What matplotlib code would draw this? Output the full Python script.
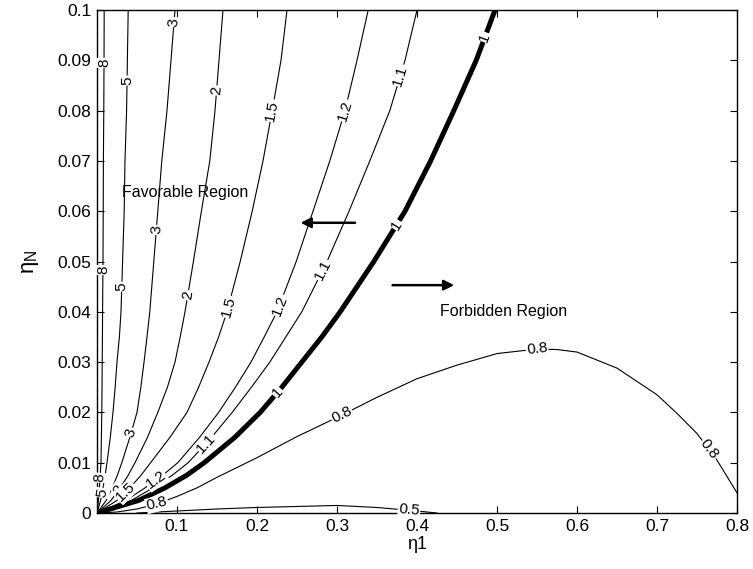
import numpy as np
import matplotlib
matplotlib.use('Agg')
import matplotlib.pyplot as plt

plt.rcParams['font.family'] = ['Liberation Sans', 'DejaVu Sans']
plt.rcParams['mathtext.fontset'] = 'custom'
plt.rcParams['mathtext.rm'] = 'Liberation Sans'

# contour levels that run up from the origin: x read at each eta_N value
Y_LEVELS = [0, 0.0025, 0.005, 0.0075, 0.01, 0.015, 0.02, 0.025, 0.03, 0.035, 0.04,
            0.05, 0.06, 0.07, 0.08, 0.09, 0.1]
X_8 = [0, 0.0018, 0.003, 0.004, 0.005, 0.0055, 0.006, 0.0063, 0.0065, 0.0068, 0.007,
       0.0075, 0.0078, 0.008, 0.0085, 0.0088, 0.009]
X_5 = [0, 0.0045, 0.0075, 0.0102, 0.0125, 0.0166, 0.02, 0.0227, 0.025, 0.028, 0.03,
       0.032, 0.034, 0.035, 0.037, 0.038, 0.039]
X_3 = [0, 0.0115, 0.019, 0.0255, 0.031, 0.041, 0.05, 0.0548, 0.0588, 0.0625, 0.066,
       0.071, 0.076, 0.081, 0.0875, 0.0925, 0.0975]
X_2 = [0, 0.0175, 0.029, 0.039, 0.0475, 0.063, 0.076, 0.088, 0.0975, 0.104, 0.11,
       0.1205, 0.1305, 0.141, 0.1475, 0.1525, 0.1575]
X_1_5 = [0, 0.025, 0.041, 0.055, 0.067, 0.091, 0.1125, 0.127, 0.14, 0.152, 0.1625,
         0.179, 0.194, 0.2075, 0.219, 0.23, 0.2375]
X_1_2 = [0, 0.036, 0.06, 0.082, 0.101, 0.128, 0.152, 0.173, 0.1925, 0.209, 0.225,
         0.249, 0.27, 0.291, 0.31, 0.325, 0.339]
X_1_1 = [0, 0.043, 0.07, 0.094, 0.114, 0.143, 0.169, 0.193, 0.216, 0.236, 0.256,
         0.2875, 0.315, 0.341, 0.366, 0.385, 0.4]
X_1 = [0, 0.052, 0.085, 0.112, 0.134, 0.172, 0.204, 0.231, 0.256, 0.281, 0.304,
       0.346, 0.385, 0.417, 0.446, 0.474, 0.4975]

# the low levels: eta_N read at each eta1 value
X_08 = [0, 0.025, 0.05, 0.075, 0.1, 0.125, 0.15, 0.2, 0.25, 0.3, 0.35, 0.4, 0.45, 0.5,
        0.55, 0.575, 0.6, 0.65, 0.7, 0.725, 0.75, 0.775, 0.8]
Y_08 = [0, 0.0002, 0.0008, 0.0018, 0.0033, 0.005, 0.0071, 0.011, 0.0152, 0.019, 0.023,
        0.0267, 0.0294, 0.0317, 0.0326, 0.0325, 0.032, 0.0288, 0.0235, 0.0198, 0.0158,
        0.0105, 0.004]
X_05 = [0.05, 0.1, 0.15, 0.2, 0.25, 0.3, 0.35, 0.4, 0.425]
Y_05 = [0, 0.0004, 0.0008, 0.0011, 0.0013, 0.0015, 0.0011, 0.0004, 0]

X_TICKS = [0.1, 0.2, 0.3, 0.4, 0.5, 0.6, 0.7, 0.8]
Y_TICKS = [0, 0.01, 0.02, 0.03, 0.04, 0.05, 0.06, 0.07, 0.08, 0.09, 0.1]
Y_TICK_LABELS = ['0', '0.01', '0.02', '0.03', '0.04', '0.05', '0.06', '0.07', '0.08', '0.09', '0.1']

fig = plt.figure(figsize=(7.53, 5.69), dpi=100)
ax = fig.add_axes([0.1288, 0.0984, 0.85, 0.884])
ax.set_xlim(0, 0.8)
ax.set_ylim(0, 0.1)

steep = [
    ('8', X_8, 0.8, [0.0895, 0.0483, 0.007]),
    ('5', X_5, 0.8, [0.086, 0.045, 0.004]),
    ('3', X_3, 0.8, [0.0976, 0.0563, 0.016]),
    ('2', X_2, 0.8, [0.084, 0.0433, 0.0046]),
    ('1.5', X_1_5, 0.8, [0.08, 0.041, 0.0042]),
    ('1.2', X_1_2, 0.8, [0.08, 0.0413, 0.0066]),
    ('1.1', X_1_1, 0.8, [0.087, 0.0483, 0.0139]),
    ('1', X_1, 3.6, [0.0946, 0.0573, 0.024]),
]
for name, xs, lw, labs in steep:
    ax.plot(xs, Y_LEVELS, color='black', lw=lw, zorder=2, solid_capstyle='butt',
            solid_joinstyle='round')

ax.plot(X_08, Y_08, color='black', lw=0.8, zorder=2)
ax.plot(X_05, Y_05, color='black', lw=0.8, zorder=2)


def put_label(xs, ys, text, at, by_y=True):
    xs = np.asarray(xs)
    ys = np.asarray(ys)
    if by_y:
        y0 = at
        x0 = np.interp(at, ys, xs)
        i = min(max(np.searchsorted(ys, at), 1), len(ys) - 1)
    else:
        x0 = at
        y0 = np.interp(at, xs, ys)
        i = min(max(np.searchsorted(xs, at), 1), len(xs) - 1)
    p1 = ax.transData.transform((xs[i - 1], ys[i - 1]))
    p2 = ax.transData.transform((xs[i], ys[i]))
    ang = np.degrees(np.arctan2(p2[1] - p1[1], p2[0] - p1[0]))
    if ang > 90:
        ang -= 180
    if ang < -90:
        ang += 180
    ax.text(x0, y0, text, rotation=ang, rotation_mode='anchor', ha='center', va='center',
            fontsize=11, zorder=4,
            bbox=dict(facecolor='white', edgecolor='none', pad=0.6))


for name, xs, lw, labs in steep:
    for at in labs:
        put_label(xs, Y_LEVELS, name, at)

for at in [0.075, 0.306, 0.55, 0.765]:
    put_label(X_08, Y_08, '0.8', at, by_y=False)
put_label(X_05, Y_05, '0.5', 0.39, by_y=False)

# region notes and arrows
ax.text(0.031, 0.0638, 'Favorable Region', fontsize=11.5, va='center', ha='left', zorder=5)
ax.text(0.429, 0.0400, 'Forbidden Region', fontsize=11.5, va='center', ha='left', zorder=5)
ax.annotate('', xy=(0.251, 0.0577), xytext=(0.326, 0.0577),
            arrowprops=dict(arrowstyle='-|>', color='black', lw=1.8, mutation_scale=15))
ax.annotate('', xy=(0.45, 0.0453), xytext=(0.366, 0.0453),
            arrowprops=dict(arrowstyle='-|>', color='black', lw=1.8, mutation_scale=15))

ax.set_xticks(X_TICKS)
ax.set_xticklabels([f'{v:g}' for v in X_TICKS])
ax.set_yticks(Y_TICKS)
ax.set_yticklabels(Y_TICK_LABELS)
ax.tick_params(direction='in', top=True, right=True, length=5, width=0.8, labelsize=12.5, pad=4)
for s in ax.spines.values():
    s.set_linewidth(1.0)

ax.set_xlabel('η1', fontsize=13, labelpad=2)
ax.set_ylabel(r'$\mathregular{\eta_N}$', fontsize=16, labelpad=12)

fig.savefig('out.png', dpi=100)
